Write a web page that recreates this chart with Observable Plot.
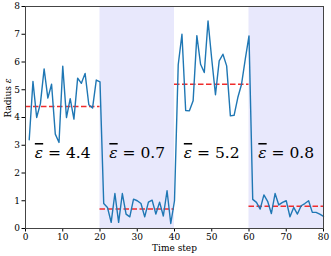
<!DOCTYPE html>
<html>
<head>
<meta charset="utf-8">
<script src="https://cdn.jsdelivr.net/npm/d3@7"></script>
<script src="https://cdn.jsdelivr.net/npm/@observablehq/plot@0.6"></script>
<style>
  html, body { margin: 0; padding: 0; background: #fff; }
</style>
</head>
<body>
<div id="chart"></div>
<script>
const steps = [1,2,3,4,5,6,7,8,9,10,11,12,13,14,15,16,17,18,19,20,
  21,22,23,24,25,26,27,28,29,30,31,32,33,34,35,36,37,38,39,40,
  41,42,43,44,45,46,47,48,49,50,51,52,53,54,55,56,57,58,59,60,
  61,62,63,64,65,66,67,68,69,70,71,72,73,74,75,76,77,78,79,80];
const radius = [
  3.2,5.3,4.0,4.5,5.75,4.7,5.2,3.4,3.1,5.85,4.0,4.68,3.94,5.42,5.23,5.59,4.46,4.34,5.35,5.28,
  0.9,0.76,0.22,1.26,0.22,1.26,0.52,0.42,1.06,1.0,0.9,0.42,0.95,1.02,0.52,0.95,0.45,1.36,0.18,1.0,
  5.9,7.0,4.25,4.24,4.6,6.95,5.92,5.62,7.48,6.1,4.82,6.04,6.28,5.86,4.06,4.08,4.72,5.2,6.1,6.94,
  1.05,0.94,0.70,1.21,0.98,0.54,1.26,0.85,0.94,1.0,0.42,0.76,0.52,0.82,0.90,1.0,0.58,0.58,0.52,0.44
];
const segStart = [0, 20, 40, 60];
const segEnd = [20, 40, 60, 80];
const segMean = [4.4, 0.7, 5.2, 0.8];
const segValueText = ["4.4", "0.7", "5.2", "0.8"];
const segCenter = [10, 30, 50, 70];
const shadedStart = [20, 60];
const shadedEnd = [40, 80];
const xTicks = [0, 10, 20, 30, 40, 50, 60, 70, 80];
const yTicks = [0, 1, 2, 3, 4, 5, 6, 7, 8];
const labelY = 2.72;

const series = steps.map((t, i) => ({t, r: radius[i]}));
const segs = segStart.map((s, i) => ({x1: s, x2: segEnd[i], y: segMean[i], cx: segCenter[i],
  label: "ε = " + segValueText[i]}));
const shaded = shadedStart.map((s, i) => ({x1: s, x2: shadedEnd[i]}));

const font = "DejaVu Serif";

const chart = Plot.plot({
  width: 331,
  height: 256,
  marginLeft: 25,
  marginRight: 8,
  marginTop: 6,
  marginBottom: 28,
  style: {fontFamily: font, fontSize: "9px", background: "#fff", color: "#000"},
  x: {domain: [0, 80]},
  y: {domain: [0, 8]},
  marks: [
    Plot.rect(shaded, {x1: "x1", x2: "x2", fill: "#e8e8fc"}),
    Plot.ruleY(segs, {x1: "x1", x2: "x2", y: "y", stroke: "#f02c2c", strokeWidth: 1.5, strokeDasharray: "5.5,2.5"}),
    Plot.line(series, {x: "t", y: "r", stroke: "#1f77b4", strokeWidth: 1.4}),
    Plot.text(segs, {x: "cx", y: () => labelY, text: "label", fontSize: 15.5, fontFamily: font, fill: "#000", className: "seglabel"}),
    Plot.axisX({ticks: xTicks, tickSize: 3.5, tickPadding: 2, fontSize: 9, fontFamily: font, label: null}),
    Plot.axisY({ticks: yTicks, tickSize: 3.5, tickPadding: 2, fontSize: 9, fontFamily: font, label: null}),
    Plot.frame({stroke: "#444", strokeWidth: 1}),
    Plot.text(["Time step"], {frameAnchor: "bottom", dy: 22.5, fontSize: 9, fontFamily: font, fill: "#000"}),
    Plot.text(["Radius ε"], {frameAnchor: "left", rotate: -90, dx: -17, fontSize: 9, fontFamily: font, fill: "#000", className: "ylab"})
  ]
});
document.getElementById("chart").appendChild(chart);

const NS = "http://www.w3.org/2000/svg";
chart.querySelectorAll(".seglabel text").forEach(t => {
  const s = t.textContent;
  t.textContent = "";
  const eps = document.createElementNS(NS, "tspan");
  eps.setAttribute("font-style", "italic");
  eps.setAttribute("text-decoration", "overline");
  eps.textContent = s.slice(0, 1);
  t.appendChild(eps);
  t.appendChild(document.createTextNode(s.slice(1)));
});
chart.querySelectorAll(".ylab text").forEach(t => {
  const s = t.textContent;
  t.textContent = s.slice(0, -1);
  const eps = document.createElementNS(NS, "tspan");
  eps.setAttribute("font-style", "italic");
  eps.textContent = s.slice(-1);
  t.appendChild(eps);
});
</script>
</body>
</html>
